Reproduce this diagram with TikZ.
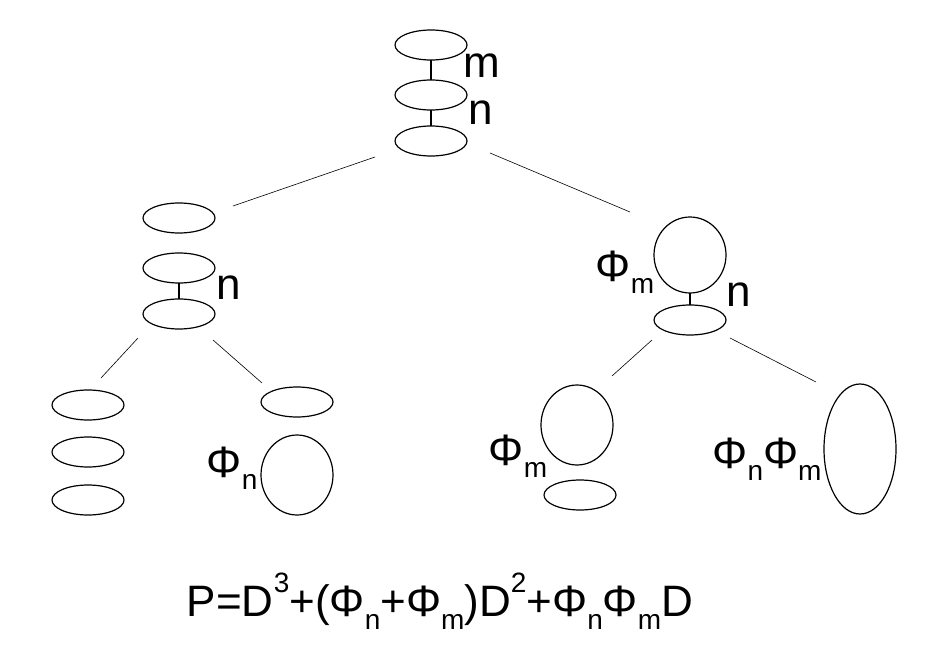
\documentclass[tikz,border=0pt]{standalone}
\usepackage{fontspec}
\setmainfont{Liberation Sans}
\newcommand{\sbs}[1]{\raisebox{-0.28em}{\fontsize{28}{28}\selectfont #1}}
\newcommand{\sps}[1]{\raisebox{0.55em}{\fontsize{28}{28}\selectfont #1}}
\begin{document}
\begin{tikzpicture}[x=1pt,y=-1pt,
  el/.style={draw,line width=1.2pt},
  bar/.style={line width=2.4pt},
  ln/.style={line width=0.6pt},
  lab/.style={font=\fontsize{44}{44}\selectfont,inner sep=0pt}]
\useasboundingbox (0,0) rectangle (950,666);
% top
\draw[el] (431,45) ellipse (36 and 15);
\draw[el] (431,95) ellipse (36 and 15);
\draw[el] (431,141) ellipse (36 and 15);
\draw[bar] (431,60) -- (431,80);
\draw[bar] (431,110) -- (431,126);
\node[lab] at (482,66) {m};
\node[lab] at (481,113) {n};
\draw[ln] (375,157) -- (233,206);
\draw[ln] (490,153) -- (630,212);
% left middle
\draw[el] (179,218) ellipse (36 and 15);
\draw[el] (179,268) ellipse (36 and 15);
\draw[el] (179,314) ellipse (36 and 15);
\draw[bar] (179,283) -- (179,299);
\node[lab] at (229,288) {n};
\draw[ln] (138,338) -- (101,378);
\draw[ln] (213,340) -- (262,383);
% right middle
\draw[el] (690,255) ellipse (36 and 38);
\draw[el] (690,320) ellipse (36 and 15);
\draw[bar] (690,293) -- (690,305);
\node[lab] at (625,272) {Φ\sbs{m}};
\node[lab] at (739,295) {n};
\draw[ln] (652,340) -- (612,376);
\draw[ln] (730,338) -- (816,382);
% bottom
\draw[el] (88,405) ellipse (36 and 15);
\draw[el] (88,452) ellipse (36 and 15);
\draw[el] (88,500) ellipse (36 and 15);
\draw[el] (297,402) ellipse (36 and 15);
\draw[el] (297,475) ellipse (36 and 40);
\node[lab] at (232,468) {Φ\sbs{n}};
\draw[el] (577,425) ellipse (36 and 40);
\draw[el] (580,495) ellipse (36 and 15);
\node[lab] at (518,456) {Φ\sbs{m}};
\draw[el] (860,449) ellipse (36 and 65);
\node[lab] at (767,459) {Φ\sbs{n}Φ\sbs{m}};
\node[lab] at (440,601) {P=D\sps{3}+(Φ\sbs{n}+Φ\sbs{m})D\sps{2}+Φ\sbs{n}Φ\sbs{m}D};
\end{tikzpicture}
\end{document}
